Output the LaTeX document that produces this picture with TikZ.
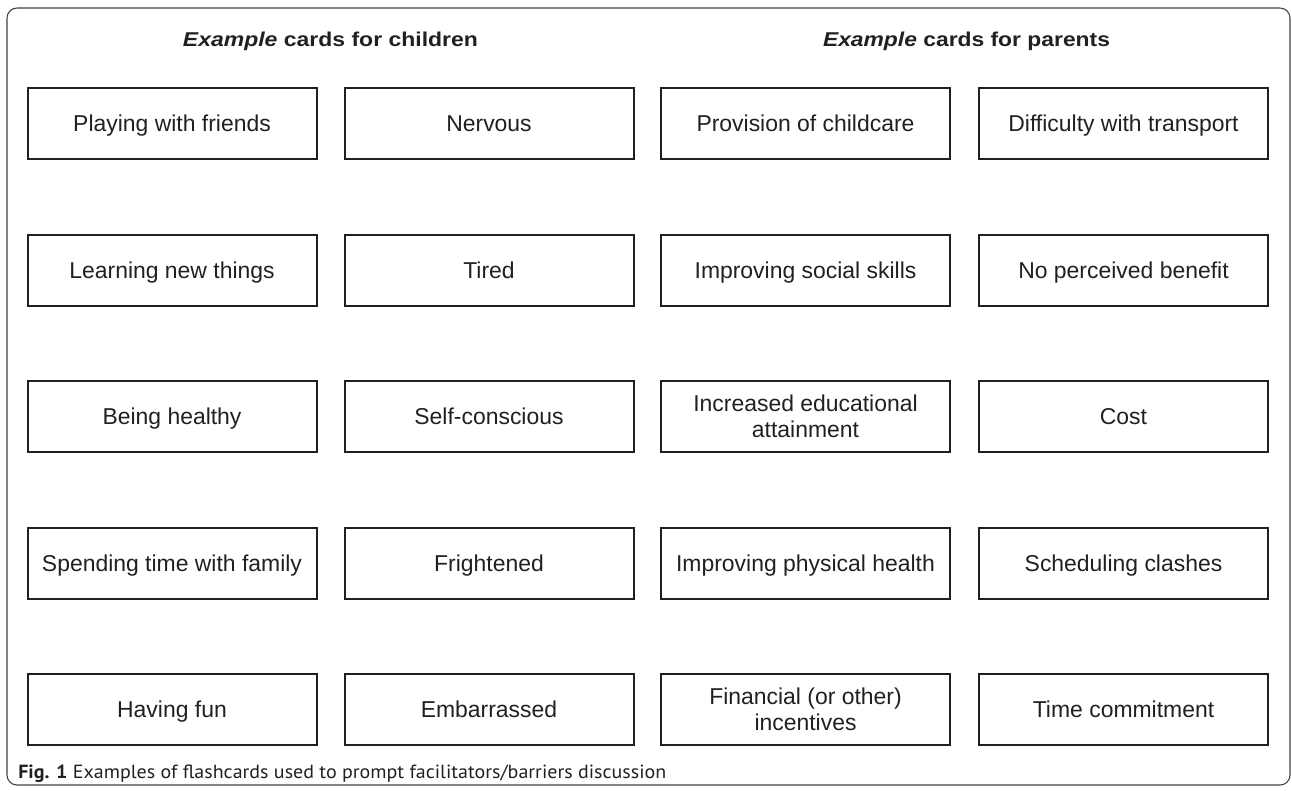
\documentclass[tikz,border=0pt]{standalone}
\usepackage{graphicx}
\usepackage{fontspec}
\setmainfont{Liberation Sans}
\newfontfamily\capfont{PT Sans}
\definecolor{ink}{HTML}{231F20}
\newcommand\twol[2]{\begin{tabular}[b]{@{}c@{}}#1\\#2\end{tabular}}
\begin{document}
\begin{tikzpicture}[x=0.75pt,y=-0.75pt,
  card/.style={draw=ink, line width=1.5pt, minimum width=216.75pt, minimum height=53.25pt,
    inner sep=0pt, text=ink, text height=12.3pt, text depth=0pt,
    font=\fontsize{17.2pt}{19.3pt}\selectfont},
  two/.style={text height=31.6pt},
  head/.style={anchor=base, inner sep=0pt, text=ink, font=\bfseries\fontsize{15pt}{18pt}\selectfont},
  frame/.style={draw=ink!85, line width=0.8pt, rounded corners=7.5pt}]
\useasboundingbox (0,0) rectangle (1292,790);
\draw[frame] (7,8) rectangle (1290,785);

\node[head] (h1) at (330.5,46) {\resizebox{221.25pt}{\height}{\textit{Example} cards for children}};
\node[head] (h2) at (966.5,46) {\resizebox{215.25pt}{\height}{\textit{Example} cards for parents}};

% column 1
\node[card] (c11) at (172,123.5) {Playing with friends};
\node[card] (c12) at (172,270) {Learning new things};
\node[card] (c13) at (172,416.5) {Being healthy};
\node[card] (c14) at (172,563) {Spending time with family};
\node[card] (c15) at (172,709.5) {Having fun};
% column 2
\node[card] (c21) at (489,123.5) {Nervous};
\node[card] (c22) at (489,270) {Tired};
\node[card] (c23) at (489,416.5) {Self-conscious};
\node[card] (c24) at (489,563) {Frightened};
\node[card] (c25) at (489,709.5) {Embarrassed};
% column 3
\node[card] (c31) at (805.5,123.5) {Provision of childcare};
\node[card] (c32) at (805.5,270) {Improving social skills};
\node[card,two] (c33) at (805.5,416.5) {\twol{Increased educational}{attainment}};
\node[card] (c34) at (805.5,563) {Improving physical health};
\node[card,two] (c35) at (805.5,709.5) {\twol{Financial (or other)}{incentives}};
% column 4
\node[card] (c41) at (1123.5,123.5) {Difficulty with transport};
\node[card] (c42) at (1123.5,270) {No perceived benefit};
\node[card] (c43) at (1123.5,416.5) {Cost};
\node[card] (c44) at (1123.5,563) {Scheduling clashes};
\node[card] (c45) at (1123.5,709.5) {Time commitment};

\node[anchor=base west, inner sep=0pt, text=ink] (cap) at (18,778)
  {\resizebox{486pt}{\height}{\capfont\fontsize{14.3pt}{16pt}\selectfont\textbf{Fig. 1} Examples of flashcards used to prompt facilitators/barriers discussion}};
\end{tikzpicture}
\end{document}
